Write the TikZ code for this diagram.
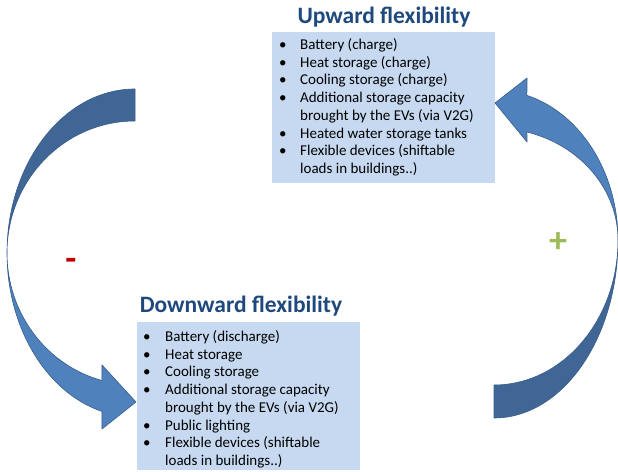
\documentclass[tikz,border=0pt]{standalone}
\usepackage{fontspec}
\setmainfont{Carlito}

\definecolor{boxblue}{RGB}{198,217,241}
\definecolor{titleblue}{RGB}{31,73,125}
\definecolor{arrowdark}{RGB}{64,102,150}
\definecolor{arrowlight}{RGB}{79,129,189}
\definecolor{arrowline}{RGB}{56,93,138}
\definecolor{minusred}{RGB}{192,0,0}
\definecolor{plusgreen}{RGB}{155,187,89}

\newcommand{\flexitem}[1]{\textbullet & #1\\}
\newcommand{\flexmore}[1]{& #1\\}

\tikzset{
	flexbox/.style={rectangle, fill=boxblue, draw=none, inner sep=0pt},
	flextitle/.style={text=titleblue, anchor=base, inner sep=0pt, font=\fontsize{23.5}{26}\selectfont\bfseries},
	flexlist/.style={anchor=north west, inner sep=0pt, font=\fontsize{15}{17.7}\selectfont},
	arrowback/.style={fill=arrowdark, draw=arrowline, line width=0.6pt, line join=round},
	arrowfront/.style={fill=arrowlight, draw=arrowline, line width=0.6pt, line join=round},
	signtext/.style={inner sep=0pt, font=\fontsize{36}{36}\selectfont\bfseries}
}

\begin{document}
\begin{tikzpicture}[x=1pt, y=1pt]
			\useasboundingbox (0,0) rectangle (618,471);

			\node[flexbox, minimum width=223pt, minimum height=151pt] (upbox) at(383.5, 363.5){};
			\node[flextitle] (uptitle) at(384, 447){Upward flexibility};
			\node[flexlist] (uplist) at(279, 434){%
				\begin{tabular}{@{}p{21pt}@{}l@{}}
					\flexitem{Battery (charge)}
					\flexitem{Heat storage (charge)}
					\flexitem{Cooling storage (charge)}
					\flexitem{Additional storage capacity}
					\flexmore{brought by the EVs (via V2G)}
					\flexitem{Heated water storage tanks}
					\flexitem{Flexible devices (shiftable}
					\flexmore{loads in buildings..)}
				\end{tabular}};

			\node[flexbox, minimum width=223pt, minimum height=148pt] (downbox) at(248.5, 75){};
			\node[flextitle] (downtitle) at(241, 158){Downward flexibility};
			\node[flexlist] (downlist) at(143, 142){%
				\begin{tabular}{@{}p{22pt}@{}l@{}}
					\flexitem{Battery (discharge)}
					\flexitem{Heat storage}
					\flexitem{Cooling storage}
					\flexitem{Additional storage capacity}
					\flexmore{brought by the EVs (via V2G)}
					\flexitem{Public lighting}
					\flexitem{Flexible devices (shiftable}
					\flexmore{loads in buildings..)}
				\end{tabular}};

			\begin{scope}[shift={(135,218)}]
				\draw[arrowback] (90:128 and 164) arc[start angle=90, end angle=180, x radius=128, y radius=164]
					arc[start angle=180, end angle=90, x radius=128, y radius=132] -- cycle;
				\draw[arrowfront] (180:128 and 164) arc[start angle=180, end angle=255, x radius=128, y radius=164]
					-- (-33,-176) -- (1,-149) -- (-33,-112) -- (255:128 and 132)
					arc[start angle=255, end angle=180, x radius=128, y radius=132] -- cycle;
			\end{scope}

			\begin{scope}[shift={(494,231)}]
				\draw[arrowback] (270:124 and 178) arc[start angle=270, end angle=360, x radius=124, y radius=178]
					arc[start angle=0, end angle=-90, x radius=124, y radius=145] -- cycle;
				\draw[arrowfront] (0:124 and 150) arc[start angle=0, end angle=74.6, x radius=124, y radius=150]
					-- (33,162) -- (1,137) -- (33,98) -- (74.6:124 and 112)
					arc[start angle=74.6, end angle=0, x radius=124, y radius=112] -- cycle;
			\end{scope}

			\node[signtext, text=minusred] (minus) at(71, 207){-};
			\node[signtext, text=plusgreen] (plus) at(558, 228){+};
\end{tikzpicture}
\end{document}
